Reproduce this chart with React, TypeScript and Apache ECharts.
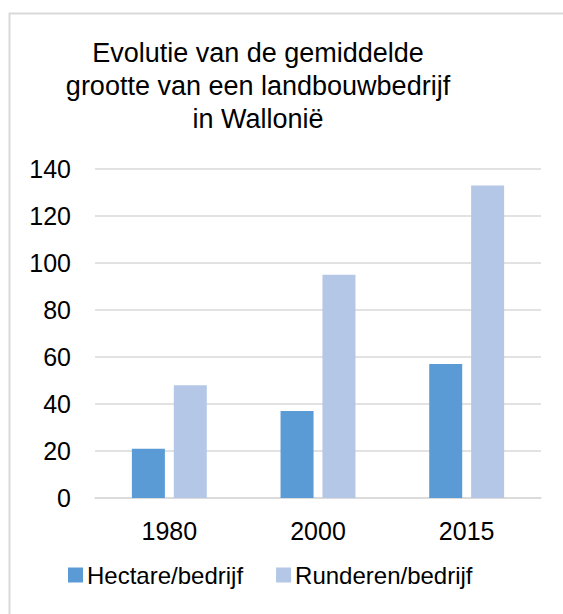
import React, { useEffect, useRef } from "react";
import * as echarts from "echarts";

const categories = ["1980", "2000", "2015"];
const hectareValues = [21, 37, 57];
const runderenValues = [48, 95, 133];
const seriesNames = ["Hectare/bedrijf", "Runderen/bedrijf"];
const titleLines = [
  "Evolutie van de gemiddelde",
  "grootte van een landbouwbedrijf",
  "in Wallonië",
];

const FONT = "'Liberation Sans', Arial, sans-serif";

export default function App() {
  const ref = useRef<HTMLDivElement>(null);
  useEffect(() => {
    if (!ref.current) return;
    const chart = echarts.init(ref.current, undefined, { renderer: "svg" });
    chart.setOption({
      animation: false,
      backgroundColor: "#ffffff",
      textStyle: { fontFamily: FONT },
      graphic: [
        {
          type: "rect",
          shape: { x: 9.5, y: 13.5, width: 600, height: 700 },
          style: { fill: "none", stroke: "#d9d9d9", lineWidth: 2 },
          silent: true,
          z: -1,
        },
        {
          type: "text",
          x: 258,
          y: 36,
          style: {
            text: titleLines.join("\n"),
            fontFamily: FONT,
            fontSize: 27,
            lineHeight: 33,
            fill: "#000000",
            textAlign: "center",
            textVerticalAlign: "top",
          },
        },
      ],
      legend: {
        data: seriesNames,
        left: 68,
        top: 563,
        padding: 0,
        itemWidth: 15,
        itemHeight: 15,
        itemGap: 33,
        icon: "rect",
        textStyle: {
          fontFamily: FONT,
          fontSize: 24,
          color: "#000000",
          lineHeight: 24,
          padding: [0, 0, 0, -1],
        },
      },
      grid: {
        left: 95,
        right: 22,
        top: 169,
        bottom: 116,
        containLabel: false,
      },
      xAxis: {
        type: "category",
        data: categories,
        axisLine: { show: true, lineStyle: { color: "#d9d9d9", width: 1.5 } },
        axisTick: { show: false },
        axisLabel: {
          fontFamily: FONT,
          fontSize: 25,
          color: "#000000",
          margin: 20,
        },
      },
      yAxis: {
        type: "value",
        min: 0,
        max: 140,
        interval: 20,
        axisLine: { show: false },
        axisTick: { show: false },
        splitLine: { lineStyle: { color: "#d9d9d9", width: 1.5 } },
        axisLabel: {
          fontFamily: FONT,
          fontSize: 25,
          color: "#000000",
          margin: 24,
        },
      },
      series: [
        {
          name: seriesNames[0],
          type: "bar",
          data: hectareValues,
          barWidth: 33,
          barGap: "27%",
          itemStyle: { color: "#5b9bd5" },
        },
        {
          name: seriesNames[1],
          type: "bar",
          data: runderenValues,
          barWidth: 33,
          barGap: "27%",
          itemStyle: { color: "#b4c7e7" },
        },
      ],
    });
    return () => chart.dispose();
  }, []);
  return (
    <div
      ref={ref}
      style={{ position: "fixed", left: 0, top: 0, width: 563, height: 614 }}
    />
  );
}
